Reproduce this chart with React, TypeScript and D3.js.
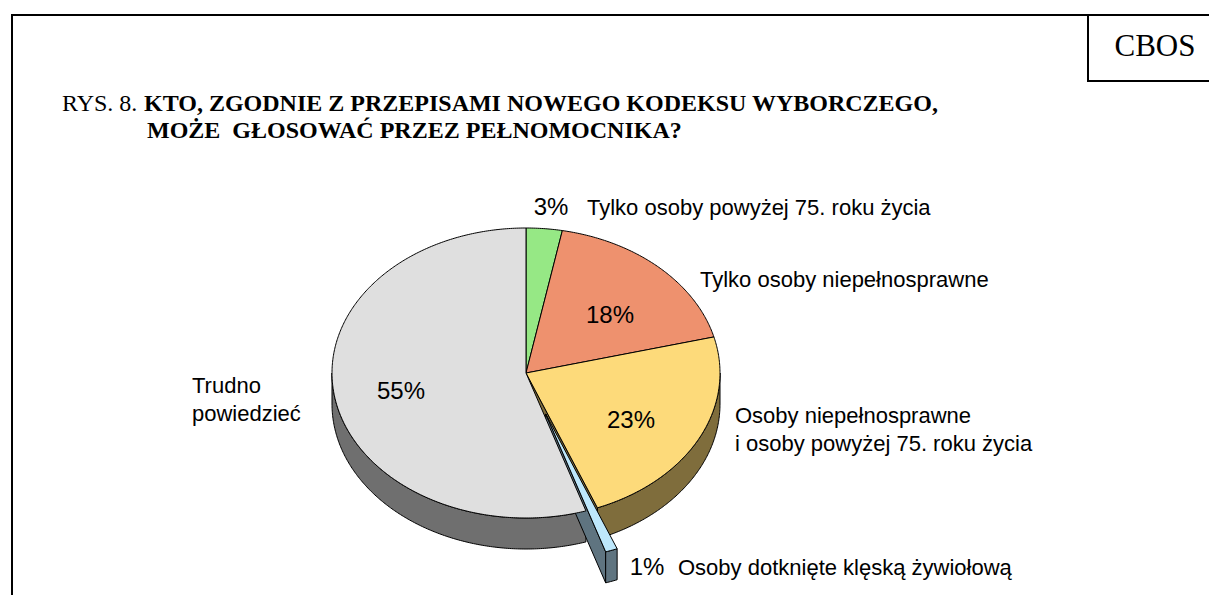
import React from 'react';
import * as d3 from 'd3';

// Data
const categories = [
  'Tylko osoby powyżej 75. roku życia',
  'Tylko osoby niepełnosprawne',
  'Osoby niepełnosprawne\ni osoby powyżej 75. roku życia',
  'Osoby dotknięte klęską żywiołową',
  'Trudno\npowiedzieć',
];
const values = [3, 18, 23, 1, 55];
const topColors = ['#96E885', '#EE916E', '#FDDA7A', '#BDE7FB', '#DFDFDF'];
const sideColors = ['#4B7442', '#774837', '#7F6D3C', '#5F7480', '#6F6F6F'];
const exploded = [false, false, false, true, false];

const titlePrefix = 'RYS. 8. ';
const titleLine1 = 'KTO, ZGODNIE Z PRZEPISAMI NOWEGO KODEKSU WYBORCZEGO,';
const titleLine2 = 'MOŻE  GŁOSOWAĆ PRZEZ PEŁNOMOCNIKA?';
const brand = 'CBOS';

const W = 1209;
const H = 595;

// layout of the 3D pie
const cx = 526;
const cy = 373;
const rx = 194;
const ry = 145;
const depth = 31;
const explodeBy = 0.3;

// label layout (pct label centre, category text start)
const pctPos = [
  { x: 551, y: 215 },
  { x: 610, y: 323 },
  { x: 631, y: 428 },
  { x: 647, y: 575 },
  { x: 401, y: 399 },
];
const catPos = [
  { x: 587, y: 215, anchor: 'start' },
  { x: 700, y: 287, anchor: 'start' },
  { x: 735, y: 423, anchor: 'start' },
  { x: 678, y: 575, anchor: 'start' },
  { x: 192, y: 393, anchor: 'start' },
];

type Pt = [number, number];

const App: React.FC = () => {
  const arcs = d3.pie<number>().sort(null).startAngle(0).endAngle(2 * Math.PI)(values);

  const offsetOf = (i: number): Pt => {
    if (!exploded[i]) return [0, 0];
    const a = (arcs[i].startAngle + arcs[i].endAngle) / 2;
    return [explodeBy * rx * Math.sin(a), explodeBy * ry * -Math.cos(a)];
  };

  const pt = (a: number, r: number, off: Pt, dz = 0): Pt => [
    cx + off[0] + r * rx * Math.sin(a),
    cy + off[1] - r * ry * Math.cos(a) + dz,
  ];

  const arcPts = (a0: number, a1: number, off: Pt, dz = 0): Pt[] => {
    const n = Math.max(2, Math.ceil(Math.abs(a1 - a0) / 0.01));
    return d3.range(n + 1).map(k => pt(a0 + ((a1 - a0) * k) / n, 1, off, dz));
  };

  const poly = d3.line().curve(d3.curveLinearClosed);

  const topPath = (i: number) => {
    const off = offsetOf(i);
    return poly([pt(0, 0, off), ...arcPts(arcs[i].startAngle, arcs[i].endAngle, off)])!;
  };

  const wallPath = (i: number) => {
    const a0 = Math.max(arcs[i].startAngle, Math.PI / 2);
    const a1 = Math.min(arcs[i].endAngle, (3 * Math.PI) / 2);
    if (a1 <= a0) return null;
    const off = offsetOf(i);
    const top = arcPts(a0, a1, off);
    const bottom = arcPts(a1, a0, off, depth);
    return poly([...top, ...bottom])!;
  };

  const radialPath = (i: number, a: number) => {
    const off = offsetOf(i);
    return poly([pt(a, 0, off), pt(a, 1, off), pt(a, 1, off, depth), pt(a, 0, off, depth)])!;
  };

  const stroke = { stroke: '#000', strokeWidth: 1, strokeLinejoin: 'round' as const };
  const ex = exploded.indexOf(true);

  // painter's order: walls, radial faces visible through the gap, exploded slice, tops
  const walls = values.map((_, i) => (exploded[i] ? null : wallPath(i)));

  return (
    <svg
      width={W}
      height={H}
      style={{ position: 'absolute', left: 0, top: 0, display: 'block', background: '#fff' }}
    >
      {/* frame */}
      <path d={`M12,${H} L12,15 L${W},15`} fill="none" stroke="#000" strokeWidth={2} />
      <path d={`M1088,15 L1088,81 L${W},81`} fill="none" stroke="#000" strokeWidth={2} />
      <text x={1155} y={56} textAnchor="middle" fontFamily="'Liberation Serif', serif" fontSize={31}>
        {brand}
      </text>

      {/* title */}
      <text x={62} y={111} fontFamily="'Liberation Serif', serif" fontSize={24}>
        <tspan xmlSpace="preserve">{titlePrefix}</tspan>
        <tspan x={144} fontWeight="bold">{titleLine1}</tspan>
      </text>
      <text
        x={147}
        y={138}
        fontFamily="'Liberation Serif', serif"
        fontSize={24}
        fontWeight="bold"
        style={{ whiteSpace: 'pre' }}
      >
        {titleLine2}
      </text>

      {/* side walls */}
      {walls.map((d, i) => (d ? <path key={`w${i}`} d={d} fill={sideColors[i]} {...stroke} /> : null))}

      {/* face of the slice before the gap, seen through it */}
      {ex > 0 && (
        <path d={radialPath(ex - 1, arcs[ex - 1].endAngle)} fill={sideColors[ex - 1]} {...stroke} />
      )}

      {/* exploded slice sides */}
      {ex >= 0 && (
        <g>
          <path d={radialPath(ex, arcs[ex].endAngle)} fill={sideColors[ex]} {...stroke} />
          <path d={wallPath(ex)!} fill={sideColors[ex]} {...stroke} />
        </g>
      )}

      {/* top faces */}
      {values.map((_, i) =>
        exploded[i] ? null : <path key={`t${i}`} d={topPath(i)} fill={topColors[i]} {...stroke} />
      )}
      {ex >= 0 && <path d={topPath(ex)} fill={topColors[ex]} {...stroke} />}

      {/* percentage labels */}
      {values.map((v, i) => (
        <text
          key={`p${i}`}
          x={pctPos[i].x}
          y={pctPos[i].y}
          textAnchor="middle"
          fontFamily="'Liberation Sans', Arial, sans-serif"
          fontSize={24}
          fill="#000"
        >
          {`${v}%`}
        </text>
      ))}

      {/* category labels */}
      {categories.map((c, i) => (
        <text
          key={`c${i}`}
          x={catPos[i].x}
          y={catPos[i].y}
          textAnchor={catPos[i].anchor}
          fontFamily="'Liberation Sans', Arial, sans-serif"
          fontSize={22}
          fill="#000"
        >
          {c.split('\n').map((line, k) => (
            <tspan key={k} x={catPos[i].x} dy={k === 0 ? 0 : 28}>
              {line}
            </tspan>
          ))}
        </text>
      ))}
    </svg>
  );
};

export default App;
